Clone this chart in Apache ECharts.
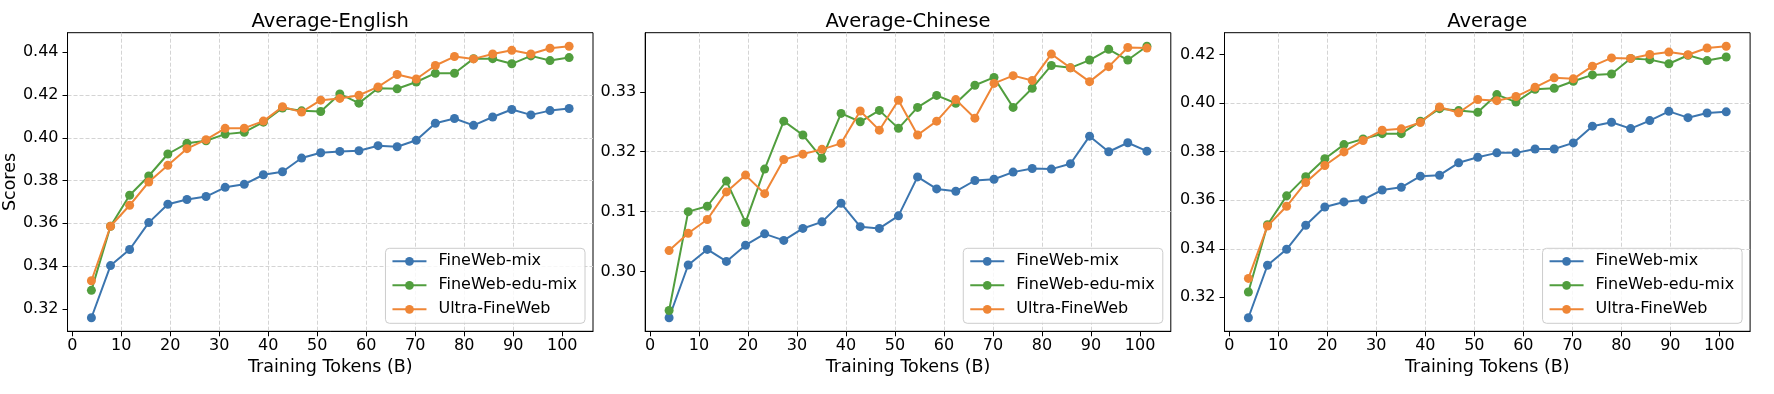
<!DOCTYPE html>
<html><head><meta charset="utf-8">
<script src="https://cdn.jsdelivr.net/npm/echarts@6/dist/echarts.min.js"></script>
<style>html,body{margin:0;padding:0;background:#fff}#c{width:1774px;height:394px}</style>
</head><body><div id="c"></div>
<script>
const tokens = [3.9, 7.8, 11.7, 15.6, 19.5, 23.4, 27.3, 31.2, 35.1, 39.0, 42.9, 46.8, 50.7, 54.6, 58.5, 62.4, 66.3, 70.2, 74.1, 78.0, 81.9, 85.8, 89.7, 93.6, 97.5, 101.4];

const engMix   = [0.3158, 0.3402, 0.3477, 0.3603, 0.3689, 0.3711, 0.3725, 0.3768, 0.3782, 0.3827, 0.3841, 0.3905, 0.3930, 0.3936, 0.3939, 0.3963, 0.3958, 0.3988, 0.4068, 0.4090, 0.4058, 0.4097, 0.4132, 0.4107, 0.4127, 0.4137];
const engEdu   = [0.3286, 0.3586, 0.3731, 0.3821, 0.3924, 0.3974, 0.3986, 0.4017, 0.4026, 0.4073, 0.4139, 0.4126, 0.4123, 0.4205, 0.4162, 0.4232, 0.4229, 0.4261, 0.4302, 0.4302, 0.4370, 0.4370, 0.4346, 0.4383, 0.4361, 0.4375];
const engUltra = [0.3331, 0.3586, 0.3684, 0.3793, 0.3871, 0.3949, 0.3991, 0.4044, 0.4045, 0.4078, 0.4145, 0.4120, 0.4176, 0.4184, 0.4199, 0.4238, 0.4296, 0.4275, 0.4338, 0.4380, 0.4369, 0.4392, 0.4409, 0.4392, 0.4419, 0.4428];

const zhMix   = [0.2923, 0.3011, 0.3037, 0.3017, 0.3044, 0.3063, 0.3052, 0.3072, 0.3083, 0.3114, 0.3075, 0.3072, 0.3093, 0.3158, 0.3138, 0.3134, 0.3152, 0.3154, 0.3166, 0.3172, 0.3171, 0.3180, 0.3226, 0.3200, 0.3215, 0.3201];
const zhEdu   = [0.2935, 0.3100, 0.3109, 0.3151, 0.3082, 0.3171, 0.3251, 0.3228, 0.3189, 0.3264, 0.3250, 0.3269, 0.3239, 0.3274, 0.3294, 0.3281, 0.3311, 0.3324, 0.3274, 0.3306, 0.3344, 0.3340, 0.3353, 0.3371, 0.3353, 0.3376];
const zhUltra = [0.3035, 0.3064, 0.3087, 0.3133, 0.3161, 0.3130, 0.3187, 0.3196, 0.3204, 0.3214, 0.3268, 0.3236, 0.3286, 0.3228, 0.3251, 0.3287, 0.3256, 0.3314, 0.3327, 0.3319, 0.3363, 0.3340, 0.3317, 0.3342, 0.3374, 0.3373];

const avgMix   = [0.3116, 0.3332, 0.3398, 0.3497, 0.3572, 0.3593, 0.3602, 0.3642, 0.3653, 0.3699, 0.3703, 0.3754, 0.3777, 0.3795, 0.3795, 0.3811, 0.3811, 0.3836, 0.3905, 0.3921, 0.3895, 0.3928, 0.3966, 0.3940, 0.3959, 0.3964];
const avgEdu   = [0.3222, 0.3499, 0.3618, 0.3697, 0.3771, 0.3829, 0.3852, 0.3874, 0.3874, 0.3925, 0.3977, 0.3969, 0.3962, 0.4035, 0.4004, 0.4057, 0.4061, 0.4090, 0.4116, 0.4120, 0.4184, 0.4179, 0.4162, 0.4197, 0.4175, 0.4190];
const avgUltra = [0.3278, 0.3494, 0.3575, 0.3673, 0.3743, 0.3799, 0.3846, 0.3888, 0.3894, 0.3920, 0.3984, 0.3960, 0.4015, 0.4010, 0.4027, 0.4065, 0.4104, 0.4100, 0.4152, 0.4186, 0.4184, 0.4200, 0.4210, 0.4199, 0.4227, 0.4234];

const seriesNames = ['FineWeb-mix', 'FineWeb-edu-mix', 'Ultra-FineWeb'];
const panelTitles = ['Average-English', 'Average-Chinese', 'Average'];
const xTicks = [0, 10, 20, 30, 40, 50, 60, 70, 80, 90, 100];
const yTicksEng = [0.32, 0.34, 0.36, 0.38, 0.40, 0.42, 0.44];
const yTicksZh  = [0.30, 0.31, 0.32, 0.33];
const yTicksAvg = [0.32, 0.34, 0.36, 0.38, 0.40, 0.42];
const xLabel = 'Training Tokens (B)';
const yLabel = 'Scores';

const panels = [
  {title: panelTitles[0], data: [engMix, engEdu, engUltra], ticks: yTicksEng, step: 0.02},
  {title: panelTitles[1], data: [zhMix, zhEdu, zhUltra], ticks: yTicksZh, step: 0.01},
  {title: panelTitles[2], data: [avgMix, avgEdu, avgUltra], ticks: yTicksAvg, step: 0.02}
];
const colors = ['#3b75af', '#519e3e', '#ef8636'];
const FONT = 'DejaVu Sans';
const W = 1774, H = 394;
const gridLefts = [67.4, 645.2, 1224.5];
const gridTop = 32.7, gridW = 525.6, gridH = 298.6;

function pad(arrs) {
  let lo = Infinity, hi = -Infinity;
  arrs.forEach(a => a.forEach(v => { lo = Math.min(lo, v); hi = Math.max(hi, v); }));
  const m = (hi - lo) * 0.05;
  return [lo - m, hi + m];
}
const xr = pad([tokens]);

const option = {animation: false, backgroundColor: '#fff', textStyle: {fontFamily: FONT}, grid: [], xAxis: [], yAxis: [], series: [], legend: [], graphic: []};
const gridLine = {show: true, showMinLine: false, showMaxLine: false, lineStyle: {color: '#d4d4d4', width: 1, type: [4, 2]}};
panels.forEach((p, i) => {
  const left = gridLefts[i];
  option.grid.push({left: left, top: gridTop, width: gridW, height: gridH, show: true, borderColor: '#000', borderWidth: 1, backgroundColor: 'transparent'});
  option.xAxis.push({
    type: 'value', gridIndex: i, min: xr[0], max: xr[1], minInterval: 10, maxInterval: 10,
    axisLine: {show: true, onZero: false, lineStyle: {color: '#000', width: 1}},
    axisTick: {show: true, length: 5, lineStyle: {color: '#000', width: 1}, customValues: xTicks},
    axisLabel: {customValues: xTicks, color: '#000', fontSize: 16, margin: 6.5, fontFamily: FONT, formatter: v => String(Math.round(v))},
    splitLine: gridLine,
    name: xLabel, nameLocation: 'middle', nameGap: 27, nameTextStyle: {fontSize: 17.5, color: '#000', fontFamily: FONT}
  });
  const yr = pad(p.data);
  option.yAxis.push({
    type: 'value', gridIndex: i, min: yr[0], max: yr[1], minInterval: p.step, maxInterval: p.step,
    axisLine: {show: true, onZero: false, lineStyle: {color: '#000', width: 1}},
    axisTick: {show: true, length: 5, lineStyle: {color: '#000', width: 1}, customValues: p.ticks},
    axisLabel: {customValues: p.ticks, color: '#000', fontSize: 16, margin: 9, fontFamily: FONT, formatter: v => v.toFixed(2)},
    splitLine: gridLine,
    name: i === 0 ? yLabel : '', nameLocation: 'middle', nameGap: 48, nameTextStyle: {fontSize: 17.5, color: '#000', fontFamily: FONT}
  });
  p.data.forEach((vals, s) => {
    option.series.push({
      type: 'line', name: seriesNames[s], xAxisIndex: i, yAxisIndex: i,
      data: tokens.map((t, j) => [t, vals[j]]),
      symbol: 'circle', symbolSize: 9,
      lineStyle: {color: colors[s], width: 2},
      itemStyle: {color: colors[s]},
      emphasis: {disabled: true}, z: 2 + s
    });
  });
  option.legend.push({
    data: seriesNames, orient: 'vertical', align: 'left',
    right: W - (left + gridW - 8), bottom: H - (gridTop + gridH - 8),
    backgroundColor: 'rgba(255,255,255,0.8)', borderColor: '#cccccc', borderWidth: 1, borderRadius: 4,
    padding: [4, 8, 5, 6], itemGap: 6, itemWidth: 34, itemHeight: 11, selectedMode: false,
    textStyle: {fontFamily: FONT, fontSize: 16, color: '#000', lineHeight: 18, padding: [0, 0, 0, 7]}
  });
  option.graphic.push({
    type: 'text', x: left + gridW / 2, y: 21.5,
    style: {text: p.title, fill: '#000', font: '19.5px "DejaVu Sans"', textAlign: 'center', textVerticalAlign: 'middle'}
  });
});
const chart = echarts.init(document.getElementById('c'), null, {renderer: 'canvas'});
chart.setOption(option);
</script>
</body></html>
